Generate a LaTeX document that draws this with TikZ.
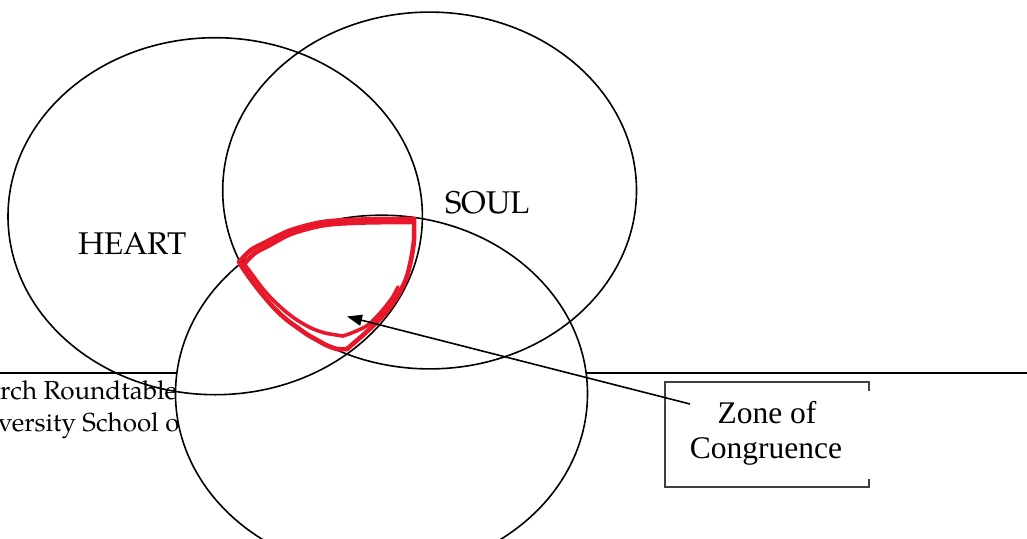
\documentclass[tikz,border=0pt]{standalone}
\usepackage{fontspec}
\newfontfamily\timesf{Liberation Serif}
\newfontfamily\palf{TeX Gyre Pagella}
\usetikzlibrary{arrows.meta}
\definecolor{penred}{RGB}{232,24,42}
\tikzset{
  ring/.style={draw=black, line width=1.6pt},
  rule/.style={draw=black, line width=2.2pt},
  lbl/.style={font=\palf\fontsize{31.4}{37}\selectfont, inner sep=0pt, anchor=base west},
  footer/.style={font=\palf\fontsize{26}{31}\selectfont, inner sep=0pt, anchor=base west},
  zonetext/.style={font=\timesf\fontsize{31.5}{35}\selectfont, inner sep=0pt, anchor=base},
  frame/.style={draw=black!75, line width=1.2pt},
  ink/.style={draw=penred, line width=4.6pt, line cap=round, line join=round},
  pointer/.style={draw=black, line width=1.6pt, -{Triangle[length=15pt,width=11pt]}},
}
\begin{document}
\begin{tikzpicture}[x=1pt,y=-1pt]
\clip (0,0) rectangle (1027,538);
\fill[white] (0,0) rectangle (1027,538);
% horizontal rule of the page behind
\coordinate (ruleL) at (0,372.7);
\coordinate (ruleR) at (1027,372.7);
\draw[rule] (ruleL) -- (ruleR);
% footer text of the page behind
\node[footer] (foot1) at (0,399) {rch Roundtable};
\node[footer] (foot2) at (-2,431) {versity School o};
% bottom ellipse (filled white)
\draw[ring, fill=white] (381.5,393.7) ellipse [x radius=206pt, y radius=178.5pt];
% heart and soul ellipses
\draw[ring] (215.2,216.2) ellipse [x radius=207.2pt, y radius=178.5pt];
\draw[ring] (429.6,190.5) ellipse [x radius=206.9pt, y radius=178.4pt];
% labels
\node[lbl] (heart) at (78,254.3) {HEART};
\node[lbl] (soul) at (445,213.5) {SOUL};
% red hand-drawn zone: top edge (thick, two strokes)
\draw[ink] plot[smooth] coordinates {(239,262) (251,250) (264,243) (290,230.5) (323,222) (363,219.5) (413,219)};
\draw[ink] plot[smooth] coordinates {(243,265) (255,253) (268,246) (292,233.5) (325,225) (364,222.5) (411,222)};
% right edge
\draw[ink] plot[smooth] coordinates {(414,219) (414,240) (411,260) (406,279) (397,297) (387,311) (375,324) (362,336) (347,349)};
\draw[ink, line width=3.6pt] plot[smooth] coordinates {(398,287) (392,298) (381,312) (368,325) (354,332) (343,336)};
% left edge (two strokes)
\draw[ink] plot[smooth] coordinates {(240,264) (249,277) (258,289) (267,300) (277,311) (287,320) (298,328) (308,335) (317,340) (326,345) (337,349) (347,349)};
\draw[ink, line width=3.6pt] plot[smooth] coordinates {(245,265) (254,277) (263,289) (273,300) (285,311) (297,320) (311,328) (325,333) (343,336)};
% zone of congruence box
\coordinate (bTRu) at (869,391);
\coordinate (bTR) at (869,382);
\coordinate (bTL) at (665,382);
\coordinate (bBL) at (665,487);
\coordinate (bBR) at (869,487);
\coordinate (bBRu) at (869,479);
\draw[frame] (bTRu) -- (bTR) -- (bTL) -- (bBL) -- (bBR) -- (bBRu);
\node[zonetext] (zone1) at (767,423) {Zone of};
\node[zonetext] (zone2) at (766,458) {Congruence};
% arrow
\coordinate (tail) at (690,404);
\coordinate (tip) at (347,316.5);
\draw[pointer] (tail) -- (tip);
\end{tikzpicture}
\end{document}
